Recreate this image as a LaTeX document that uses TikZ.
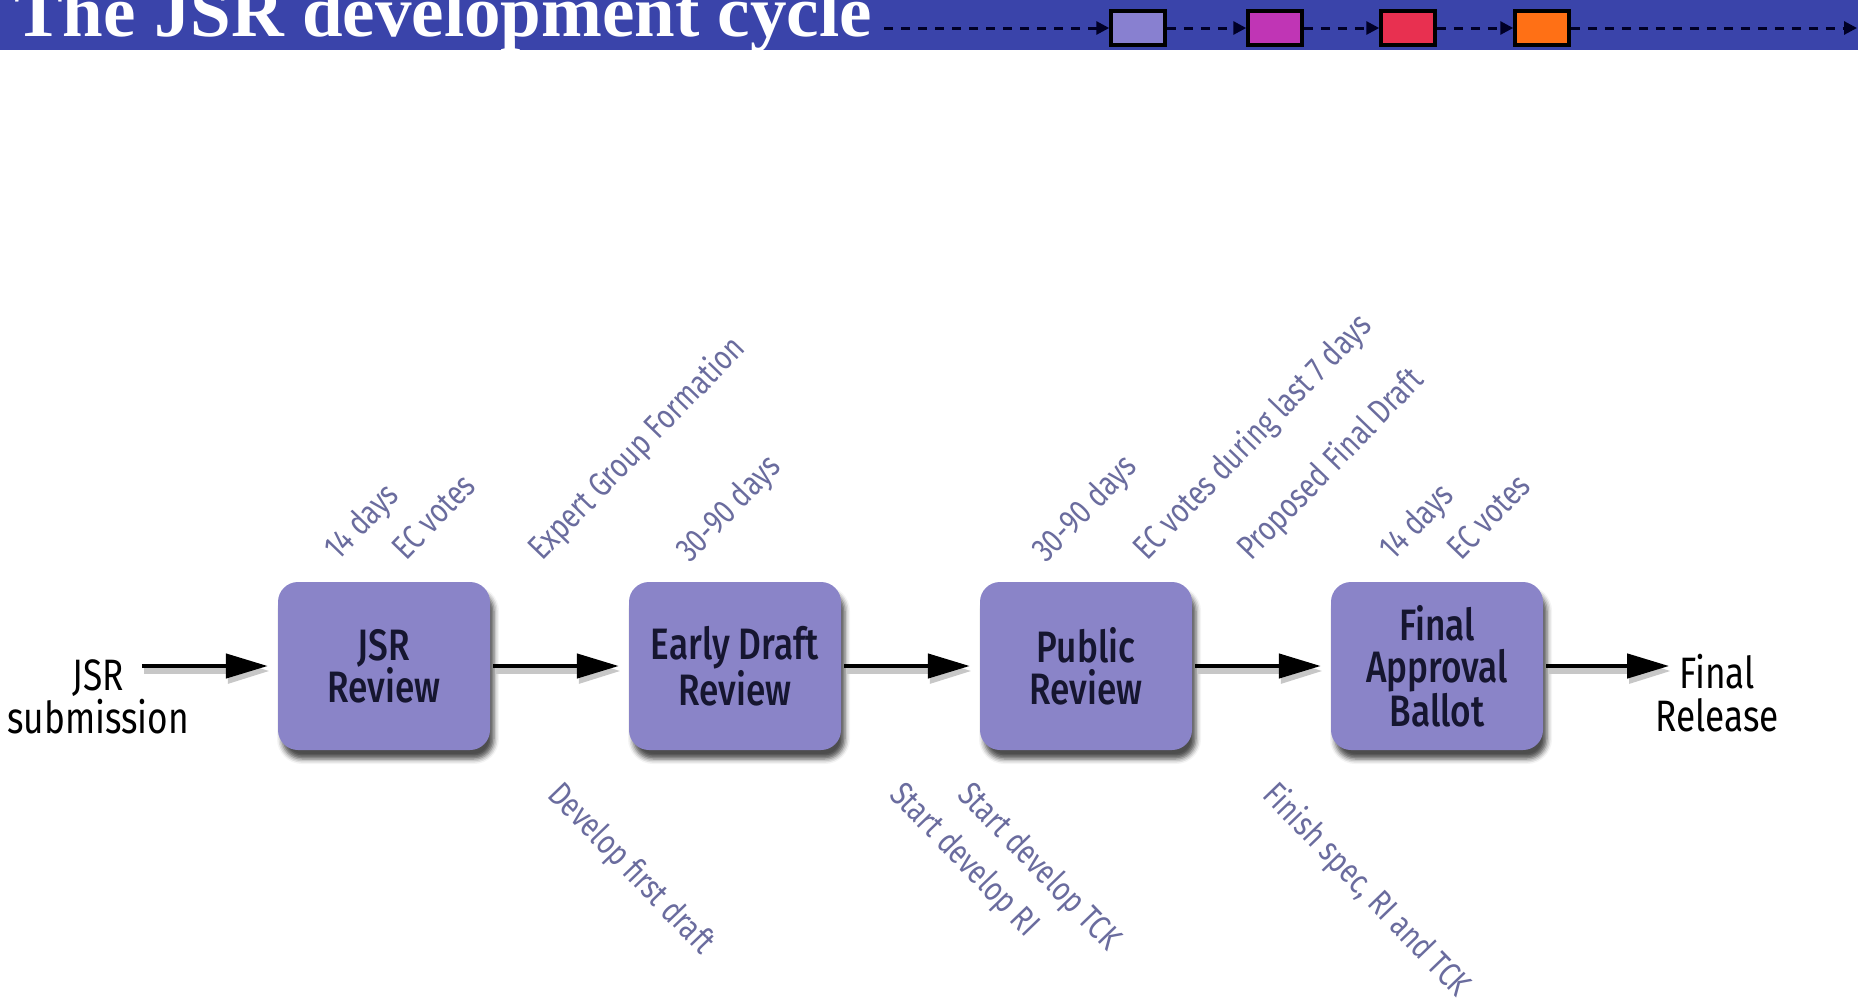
\documentclass[tikz,border=0pt]{standalone}
\usepackage{fontspec}
\usetikzlibrary{arrows.meta,shadows.blur,positioning}
\newfontfamily\titlefont{Liberation Serif}
\newfontfamily\labelfont[FakeStretch=0.8]{Fira Sans}
\newfontfamily\boxfont[FakeStretch=0.8]{Fira Sans Medium}
\definecolor{barblue}{RGB}{58,68,170}
\definecolor{boxfill}{RGB}{138,132,200}
\definecolor{darktext}{RGB}{22,22,48}
\definecolor{notegrey}{RGB}{106,108,158}
\definecolor{stepone}{RGB}{136,128,208}
\definecolor{steptwo}{RGB}{192,53,181}
\definecolor{stepthree}{RGB}{232,48,80}
\definecolor{stepfour}{RGB}{255,112,21}
\begin{document}
\begin{tikzpicture}[x=1pt, y=1pt, node distance=351pt,
    main node/.style={rounded corners=20pt, fill=boxfill, minimum width=212pt, minimum height=168pt, align=center, text=darktext, font=\boxfont\fontsize{44}{42}\selectfont, blur shadow={shadow xshift=4pt, shadow yshift=-9pt, shadow blur radius=5pt, shadow opacity=70}},
    end node/.style={align=center, inner sep=0pt, text=black, font=\labelfont\fontsize{44}{43}\selectfont},
    note/.style={inner sep=0pt, text=notegrey, font=\labelfont\fontsize{34}{34}\selectfont},
    flow/.style={-{Triangle[length=42pt,width=24pt]}, line width=4.5pt, shorten <=3pt, shorten >=10pt, preaction={draw=black!22, line width=6pt, transform canvas={shift={(2pt,-5pt)}}}},
    head box/.style={draw=black, line width=3.5pt, minimum width=54pt, minimum height=34pt, inner sep=0pt},
    head flow/.style={-{Triangle[length=13pt,width=13pt]}, line width=3pt, dash pattern=on 9pt off 8pt, draw=black!85!blue}]
        \tikzstyle{every node}=[font=\labelfont]
        \useasboundingbox (0,0) rectangle (1858,-1007);

          \fill[barblue] (0,0) rectangle (1858,-50);
          \node[anchor=base west, inner sep=0pt, text=white, font=\titlefont\bfseries\fontsize{73}{73}\selectfont] (title) at (14,-36) {The JSR development cycle};
          \coordinate (hstart) at (884,-28);
          \coordinate (hend) at (1857,-28);
          \node[head box, fill=stepone] (h1) at (1138,-28) {};
          \node[head box, fill=steptwo] (h2) at (1275,-28) {};
          \node[head box, fill=stepthree] (h3) at (1408,-28) {};
          \node[head box, fill=stepfour] (h4) at (1542,-28) {};
          \draw[head flow] (hstart) -- (h1);
          \draw[head flow] (h1) -- (h2);
          \draw[head flow] (h2) -- (h3);
          \draw[head flow] (h3) -- (h4);
          \draw[head flow] (h4) -- (hend);

          \node[end node] (1) at (98,-697) {JSR\\submission};
          \node[main node] (2) at (384,-666) {JSR\\Review};
          \node[main node] (3) [right of=2] {Early Draft\\Review};
          \node[main node] (4) [right of=3] {Public\\Review};
          \node[main node] (5) [right of=4] {Final\\Approval\\Ballot};
          \node[end node] (6) at (1717,-693) {Final\\Release};

          \draw[flow] ([xshift=-50pt]1.east |- 2.west) -- (2.west);
          \draw[flow] (2) -- (3);
          \draw[flow] (3) -- (4);
          \draw[flow] (4) -- (5);
          \draw[flow, shorten >=0pt] (5.east) -- ([xshift=14pt]6.west |- 5.east);

          \node[note, rotate=46, anchor=base west] (t1) at (338,-562) {14 days};
          \node[note, rotate=46, anchor=base west] (t2) at (406,-562) {EC votes};
          \node[note, rotate=46, anchor=base west] (t3) at (542,-562) {Expert Group Formation};
          \node[note, rotate=46, anchor=base west] (t4) at (690,-564) {30-90 days};
          \node[note, rotate=46, anchor=base west] (t5) at (1046,-564) {30-90 days};
          \node[note, rotate=46, anchor=base west] (t6) at (1147,-562) {EC votes during last 7 days};
          \node[note, rotate=46, anchor=base west] (t7) at (1251,-562) {Proposed Final Draft};
          \node[note, rotate=46, anchor=base west] (t8) at (1393,-562) {14 days};
          \node[note, rotate=46, anchor=base west] (t9) at (1461,-562) {EC votes};

          \node[note, rotate=-46, anchor=north west] (b1) at (565,-778) {Develop first draft};
          \node[note, rotate=-46, anchor=north west] (b2) at (907,-778) {Start develop RI};
          \node[note, rotate=-46, anchor=north west] (b3) at (975,-778) {Start develop TCK};
          \node[note, rotate=-46, anchor=north west] (b4) at (1281,-778) {Finish spec, RI and TCK};

        \end{tikzpicture}
\end{document}
